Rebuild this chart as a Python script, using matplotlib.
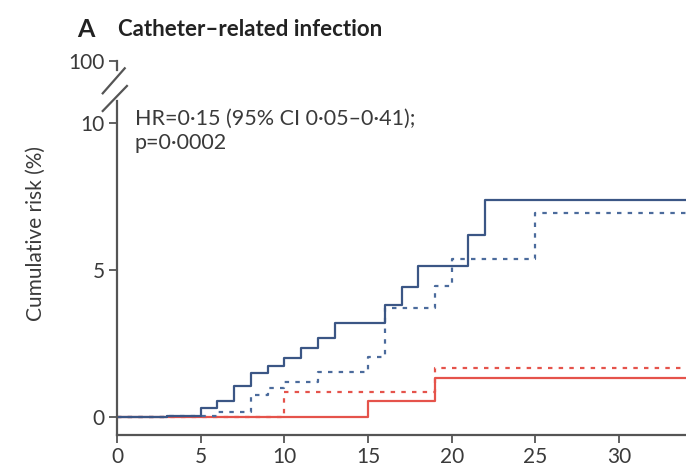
"""Cumulative risk of catheter-related infection, step curves with broken y axis."""
import matplotlib
matplotlib.use("Agg")
import matplotlib.pyplot as plt
from matplotlib.lines import Line2D

plt.rcParams["font.family"] = ["Lato", "DejaVu Sans"]

# step curves: (time, cumulative risk %) after each step
blue_solid_t = [0, 3, 5, 6, 7, 8, 9, 10, 11, 12, 13, 16, 17, 18, 21, 22, 34]
blue_solid_y = [0, 0.05, 0.31, 0.57, 1.05, 1.5, 1.73, 2.0, 2.34, 2.7, 3.2, 3.8, 4.42, 5.15, 6.2, 7.39, 7.39]
blue_dash_t = [0, 3, 6, 8, 9, 10, 12, 15, 16, 19, 20, 25, 34]
blue_dash_y = [0, 0.05, 0.18, 0.75, 0.98, 1.2, 1.54, 2.04, 3.7, 4.47, 5.38, 6.95, 6.95]
red_solid_t = [0, 15, 19, 34]
red_solid_y = [0, 0.54, 1.35, 1.35]
red_dash_t = [0, 10, 19, 34]
red_dash_y = [0, 0.86, 1.67, 1.67]

x_ticks = [0, 5, 10, 15, 20, 25, 30]
y_ticks = [0, 5, 10]
Y100 = 12.1  # where the "100" tick sits above the axis break

BLUE = "#3b5685"
BLUE_D = "#4b6b9c"
RED = "#e5534b"
TXT = "#3a3a3a"

fig = plt.figure(figsize=(6.86, 4.72), dpi=100)
ax = fig.add_axes([0.1706, 0.0784, 0.8294, 0.805])
ax.set_xlim(0, 34)
ax.set_ylim(-0.6, 12.3)

dash = (0, (2, 2.8))
ax.step(red_solid_t, red_solid_y, where="post", color=RED, lw=1.6)
ax.step(red_dash_t, red_dash_y, where="post", color=RED, lw=1.6, ls=dash)
ax.step(blue_dash_t, blue_dash_y, where="post", color=BLUE_D, lw=1.6, ls=dash)
ax.step(blue_solid_t, blue_solid_y, where="post", color=BLUE, lw=1.6)

for s in ("top", "right", "left"):
    ax.spines[s].set_visible(False)
ax.spines["bottom"].set_color("#555555")
ax.spines["bottom"].set_linewidth(1.6)

ax.set_xticks(x_ticks)
ax.set_yticks(y_ticks + [Y100])
ax.set_yticklabels([str(v) for v in y_ticks] + ["100"])
ax.tick_params(axis="both", direction="out", length=6, width=1.3,
               colors="#555555", labelcolor=TXT, labelsize=15, pad=3)

# left spine with break marks
tr = ax.get_yaxis_transform()
kw = dict(color="#555555", lw=1.6, transform=tr, clip_on=False)
ax.add_line(Line2D([0, 0], [-0.6, 10.75], **kw))
ax.add_line(Line2D([0, 0], [Y100, 11.8], **kw))
dx = 22 / 686 / 0.8294
ax.add_line(Line2D([-dx * 0.65, dx * 0.35], [11.0, 11.85], **kw))
ax.add_line(Line2D([-dx * 0.65, dx * 0.45], [10.4, 11.25], **kw))

ax.set_ylabel("Cumulative risk (%)", fontsize=15, color=TXT)
ax.yaxis.set_label_coords(-0.125, 0.53)

ax.text(1.05, 9.72, "HR=0·15 (95% CI 0·05–0·41);\np=0·0002", fontsize=15.5,
        color=TXT, va="center", ha="left", linespacing=1.3)

fig.text(0.113, 0.938, "A", fontsize=18, fontweight="bold", color="#222222", va="center")
fig.text(0.172, 0.938, "Catheter–related infection", fontsize=16, fontweight="bold",
         color="#222222", va="center")

fig.savefig("out.png", dpi=100)
